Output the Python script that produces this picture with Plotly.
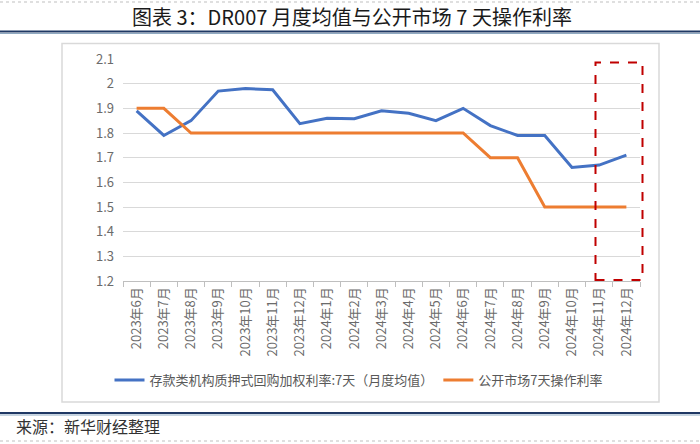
import plotly.graph_objects as go

months = ["2023年6月", "2023年7月", "2023年8月", "2023年9月", "2023年10月", "2023年11月",
          "2023年12月", "2024年1月", "2024年2月", "2024年3月", "2024年4月", "2024年5月",
          "2024年6月", "2024年7月", "2024年8月", "2024年9月", "2024年10月", "2024年11月",
          "2024年12月"]
dr007 = [1.89, 1.79, 1.85, 1.97, 1.98, 1.975, 1.838, 1.86, 1.858, 1.89, 1.88, 1.85,
         1.90, 1.83, 1.79, 1.79, 1.66, 1.67, 1.71]
omo7 = [1.90, 1.90, 1.80, 1.80, 1.80, 1.80, 1.80, 1.80, 1.80, 1.80, 1.80, 1.80,
        1.80, 1.70, 1.70, 1.50, 1.50, 1.50, 1.50]
ytick_vals = [1.2, 1.3, 1.4, 1.5, 1.6, 1.7, 1.8, 1.9, 2.0, 2.1]
ytick_text = ["1.2", "1.3", "1.4", "1.5", "1.6", "1.7", "1.8", "1.9", "2", "2.1"]
name1 = "存款类机构质押式回购加权利率:7天（月度均值）"
name2 = "公开市场7天操作利率"

W, H = 700, 444
L, R, T, B = 123, 60, 59, 163
PW, PH = W - L - R, H - T - B

def px(x):
    return (x - L) / PW

def py(y):
    return (H - B - y) / PH

FONT = "Noto Sans CJK SC"
TICKC = "#6b6b6b"

fig = go.Figure()
fig.add_trace(go.Scatter(x=months, y=dr007, mode="lines", name=name1,
                         line=dict(color="#4472C4", width=3)))
fig.add_trace(go.Scatter(x=months, y=omo7, mode="lines", name=name2,
                         line=dict(color="#ED7D31", width=3)))

shapes = []
# outer chart frame
shapes.append(dict(type="rect", xref="paper", yref="paper", x0=px(62), x1=px(659),
                   y0=py(402), y1=py(43.5), line=dict(color="#D9D9D9", width=1.5)))
# title underline and footer line
for yy in (31.5, 413):
    shapes.append(dict(type="line", xref="paper", yref="paper", x0=px(0), x1=px(700),
                       y0=py(yy), y1=py(yy), line=dict(color="#1F3864", width=2)))
    shapes.append(dict(type="line", xref="paper", yref="paper", x0=px(0), x1=px(700),
                       y0=py(yy + 2), y1=py(yy + 2), line=dict(color="#8EA9C1", width=1)))
# dotted borders top and bottom
for yy in (2, 441):
    shapes.append(dict(type="line", xref="paper", yref="paper", x0=px(0), x1=px(700),
                       y0=py(yy), y1=py(yy), line=dict(color="#BFBFBF", width=1, dash="dot")))
# red dashed highlight box
shapes.append(dict(type="rect", xref="paper", yref="paper", x0=px(595.5), x1=px(642.5),
                   y0=py(280), y1=py(62.5), layer="above",
                   line=dict(color="#C00000", width=2, dash="dash")))

fig.update_layout(
    width=W, height=H,
    margin=dict(l=L, r=R, t=T, b=B, autoexpand=False),
    paper_bgcolor="white", plot_bgcolor="white",
    font=dict(family=FONT, color=TICKC, size=12),
    showlegend=True,
    legend=dict(orientation="h", x=px(359), xanchor="center", y=py(380), yanchor="middle",
                font=dict(size=13, color="#595959"), bgcolor="rgba(0,0,0,0)",
                itemwidth=30, tracegroupgap=0),
    shapes=shapes,
    annotations=[
        dict(text="图表 3：DR007 月度均值与公开市场 7 天操作利率", xref="paper", yref="paper",
             x=px(352), y=py(17), xanchor="center", yanchor="middle", showarrow=False,
             font=dict(size=20, color="#1a1a1a", family=FONT)),
        dict(text="来源：新华财经整理", xref="paper", yref="paper",
             x=px(14), y=py(426), xanchor="left", yanchor="middle", showarrow=False,
             font=dict(size=16, color="#333333", family=FONT)),
    ],
)
fig.update_xaxes(type="category", tickangle=-90, showgrid=False, showline=True,
                 linecolor="#BFBFBF", linewidth=1, ticks="outside", tickson="boundaries",
                 ticklen=5, tickcolor="#BFBFBF", tickfont=dict(size=13, color=TICKC),
                 range=[-0.5, 18.5], fixedrange=True, automargin=False)
fig.update_yaxes(range=[1.2, 2.1], tickvals=ytick_vals, ticktext=ytick_text,
                 showgrid=True, gridcolor="#D9D9D9", gridwidth=1, zeroline=False,
                 showline=False, ticks="", tickfont=dict(size=13, color=TICKC),
                 ticklabelstandoff=8, automargin=False)

fig.write_html("out.html", config={"displayModeBar": False},
               post_script="document.body.style.margin='0';document.body.style.overflow='hidden';")
